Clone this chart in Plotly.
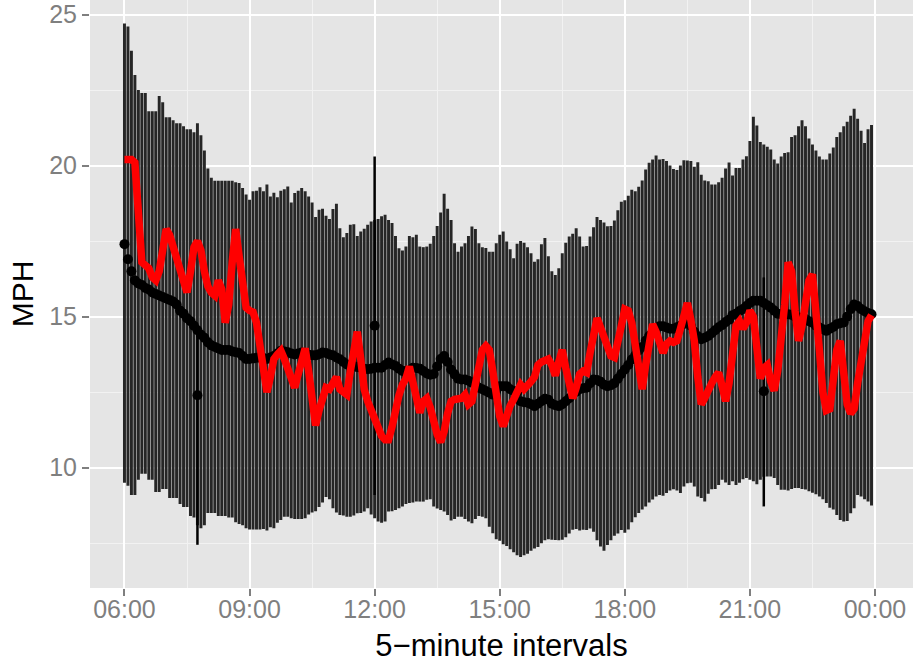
import pandas as pd
import plotly.graph_objects as go

# 5-minute intervals from 06:00 to 23:55
times = pd.date_range("2013-01-01 06:00", periods=216, freq="5min")

upper = [
    24.7, 24.6, 23.8, 23.0, 22.5, 22.4, 22.4, 21.8, 21.8, 21.8,
    22.3, 22.1, 21.6, 21.6, 21.5, 21.4, 21.4, 21.3, 21.2, 21.2,
    21.1, 21.4, 21.0, 20.5, 19.9, 19.6, 19.5, 19.5, 19.5, 19.5,
    19.5, 19.5, 19.45, 19.42, 19.26, 19.04, 18.87, 19.15, 19.17, 19.28,
    19.15, 19.37, 18.98, 19.1, 18.95, 19.17, 19.22, 19.31, 18.78, 19.09,
    19.17, 19.26, 19.15, 18.98, 18.78, 18.3, 18.54, 18.57, 18.34, 18.23,
    18.56, 18.74, 17.93, 17.63, 17.77, 18.04, 18.06, 17.67, 17.82, 17.91,
    18.04, 18.15, 18.2, 18.23, 18.32, 18.37, 18.2, 18.1, 17.67, 17.26,
    17.19, 17.32, 17.67, 17.63, 17.71, 17.32, 17.3, 17.32, 17.41, 17.67,
    18.0, 18.45, 19.07, 18.57, 18.2, 17.43, 17.15, 17.32, 17.43, 17.67,
    17.98, 17.9, 17.43, 17.3, 17.27, 17.15, 17.15, 17.43, 17.71, 17.82,
    17.49, 17.23, 16.93, 17.41, 17.5, 17.45, 17.3, 17.1, 16.82, 16.9,
    17.4, 17.6, 17.0, 16.5, 16.38, 16.6, 17.1, 17.45, 17.65, 17.74,
    17.93, 17.65, 17.32, 17.34, 17.65, 17.96, 18.3, 18.2, 18.12, 17.99,
    18.0, 18.18, 18.52, 18.8, 18.85, 19.0, 19.2, 19.15, 19.3, 19.51,
    19.87, 20.09, 20.2, 20.33, 20.2, 20.22, 20.15, 20.0, 19.89, 19.85,
    20.0, 20.18, 20.17, 20.15, 19.96, 20.11, 19.7, 19.51, 19.48, 19.37,
    19.37, 19.45, 19.6, 19.9, 20.1, 19.67, 19.92, 19.92, 20.2, 20.31,
    20.81, 21.62, 21.33, 20.78, 20.7, 20.62, 20.53, 20.2, 20.07, 20.3,
    20.42, 20.44, 20.95, 21.0, 21.3, 21.5, 21.3, 20.9, 20.7, 20.5,
    20.3, 20.2, 20.2, 20.4, 20.6, 20.95, 21.1, 21.3, 21.45, 21.65,
    21.88, 21.55, 21.15, 20.75, 21.2, 21.34,
]

lower = [
    9.5, 9.4, 9.1, 9.1, 9.6, 9.8, 9.8, 9.6, 9.6, 9.2,
    9.2, 9.3, 9.3, 9.0, 9.0, 9.0, 8.8, 8.7, 8.7, 8.4,
    8.35, 8.1, 8.0, 8.1, 8.5, 8.5, 8.5, 8.4, 8.4, 8.4,
    8.35, 8.35, 8.2, 8.14, 8.1, 8.0, 7.96, 7.96, 7.96, 7.96,
    7.97, 7.92, 8.03, 8.0, 8.18, 8.27, 8.38, 8.38, 8.33, 8.3,
    8.3, 8.3, 8.33, 8.45, 8.52, 8.56, 8.7, 8.85, 9.03, 8.96,
    8.66, 8.52, 8.44, 8.42, 8.38, 8.38, 8.42, 8.49, 8.5, 8.55,
    8.66, 8.45, 8.33, 8.22, 8.18, 8.22, 8.55, 8.56, 8.6, 8.66,
    8.72, 8.8, 8.83, 8.85, 8.88, 8.88, 8.88, 8.94, 8.96, 8.72,
    8.65, 8.6, 8.55, 8.44, 8.25, 8.3, 8.38, 8.38, 8.3, 8.22,
    8.16, 8.3, 8.4, 8.38, 8.33, 8.05, 7.83, 7.63, 7.58, 7.47,
    7.41, 7.3, 7.2, 7.1, 7.05, 7.1, 7.15, 7.25, 7.33, 7.38,
    7.5, 7.6, 7.63, 7.62, 7.61, 7.6, 7.62, 7.7, 7.82, 7.95,
    7.97, 7.92, 7.95, 7.94, 7.99, 7.88, 7.6, 7.39, 7.25, 7.44,
    7.6, 7.75, 7.82, 7.94, 7.85, 7.96, 8.2, 8.36, 8.5, 8.62,
    8.72, 8.85, 8.95, 9.05, 9.1, 9.07, 9.16, 9.25, 9.29, 9.25,
    9.16, 9.38, 9.49, 9.5, 9.38, 9.05, 9.0, 8.88, 9.14, 9.29,
    9.3, 9.43, 9.6, 9.51, 9.43, 9.55, 9.43, 9.5, 9.62, 9.66,
    9.6, 9.55, 9.45, 9.6, 9.7, 9.71, 9.71, 9.66, 9.43, 9.27,
    9.27, 9.25, 9.3, 9.33, 9.33, 9.3, 9.28, 9.22, 9.17, 9.12,
    9.05, 8.96, 8.83, 8.68, 8.62, 8.44, 8.27, 8.22, 8.24, 8.49,
    8.66, 9.1, 9.05, 8.96, 8.88, 8.75,
]

mean_mph = [
    17.4, 16.9, 16.5, 16.2, 16.1, 16.05, 15.95, 15.9, 15.8, 15.75,
    15.7, 15.65, 15.6, 15.55, 15.5, 15.4, 15.2, 15.1, 14.95, 14.85,
    14.7, 14.55, 14.4, 14.3, 14.15, 14.05, 14.0, 13.95, 13.9, 13.9,
    13.9, 13.85, 13.82, 13.8, 13.7, 13.6, 13.6, 13.62, 13.64, 13.64,
    13.63, 13.6, 13.65, 13.7, 13.78, 13.87, 13.85, 13.82, 13.78, 13.75,
    13.78, 13.81, 13.76, 13.74, 13.72, 13.72, 13.76, 13.81, 13.8, 13.75,
    13.72, 13.65, 13.59, 13.5, 13.42, 13.38, 13.37, 13.33, 13.31, 13.28,
    13.26, 13.28, 13.31, 13.31, 13.31, 13.4, 13.48, 13.42, 13.37, 13.28,
    13.2, 13.2, 13.22, 13.31, 13.3, 13.28, 13.2, 13.12, 13.08, 13.1,
    13.35, 13.6, 13.7, 13.5, 13.25, 13.09, 12.95, 12.92, 12.92, 12.88,
    12.81, 12.75, 12.65, 12.6, 12.54, 12.48, 12.42, 12.55, 12.7, 12.7,
    12.7, 12.6, 12.54, 12.5, 12.2, 12.17, 12.15, 12.1, 12.04, 12.12,
    12.2, 12.28, 12.25, 12.12, 12.07, 12.04, 12.1, 12.2, 12.3, 12.42,
    12.52, 12.6, 12.63, 12.65, 12.8, 12.92, 12.9, 12.85, 12.75, 12.7,
    12.73, 12.8, 12.95, 13.1, 13.25, 13.4, 13.58, 13.72, 13.88, 14.0,
    14.2, 14.36, 14.5, 14.6, 14.68, 14.68, 14.64, 14.6, 14.6, 14.65,
    14.7, 14.76, 14.8, 14.7, 14.5, 14.35, 14.25, 14.3, 14.36, 14.45,
    14.55, 14.65, 14.72, 14.82, 14.9, 15.05, 15.1, 15.19, 15.25, 15.35,
    15.45, 15.53, 15.53, 15.53, 15.45, 15.38, 15.3, 15.2, 15.1, 15.08,
    15.08, 15.08, 15.06, 15.0, 14.97, 14.95, 14.92, 14.85, 14.8, 14.7,
    14.64, 14.58, 14.53, 14.6, 14.66, 14.75, 14.78, 14.81, 15.0, 15.25,
    15.4, 15.35, 15.25, 15.18, 15.12, 15.08,
]

red_mph = [
    20.2, 20.2, 20.2, 20.1, 18.5, 16.8, 16.7, 16.6, 16.3, 16.2,
    16.5, 17.3, 17.9, 17.7, 17.3, 17.0, 16.6, 16.3, 15.8, 16.5,
    17.3, 17.5, 17.2, 16.5, 16.0, 15.8, 15.7, 16.2, 15.9, 14.8,
    15.4, 16.8, 17.9, 17.0, 15.9, 15.3, 15.2, 15.15, 14.8, 13.9,
    13.3, 12.5, 13.0, 13.6, 13.75, 13.87, 13.6, 13.3, 12.9, 12.65,
    13.1, 13.6, 13.95, 13.2, 12.2, 11.4, 11.9, 12.4, 12.65, 12.6,
    12.85, 13.0, 12.6, 12.5, 12.42, 13.2, 13.9, 14.5, 13.6, 12.6,
    12.2, 11.9, 11.6, 11.26, 11.05, 10.93, 10.93, 11.35, 12.0, 12.4,
    12.75, 12.95, 13.35, 12.8, 12.2, 11.82, 12.2, 12.3, 12.0, 11.5,
    11.1, 10.85, 11.2, 11.8, 12.2, 12.26, 12.26, 12.3, 12.42, 12.1,
    12.2, 12.7, 13.2, 13.9, 14.03, 13.9, 13.2, 12.4, 11.7, 11.37,
    11.8, 12.05, 12.26, 12.48, 12.75, 12.6, 12.7, 12.85, 13.0, 13.4,
    13.5, 13.55, 13.6, 13.4, 13.05, 13.5, 13.9, 13.3, 12.7, 12.3,
    12.65, 13.1, 13.2, 13.15, 13.8, 14.5, 14.95, 14.65, 14.3, 13.9,
    13.7, 13.65, 14.1, 14.7, 15.25, 15.2, 14.8, 14.0, 13.1, 12.6,
    13.4, 14.3, 14.75, 14.5, 14.1, 13.8, 14.1, 14.2, 14.15, 14.2,
    14.6, 15.1, 15.45, 14.9, 14.2, 13.0, 12.1, 12.3, 12.6, 12.8,
    13.0, 13.15, 12.7, 12.2, 12.8, 13.8, 14.7, 14.85, 14.6, 14.8,
    15.2, 15.0, 13.7, 12.95, 13.3, 13.4, 12.85, 12.55, 13.2, 14.2,
    15.4, 16.8, 16.5, 15.2, 14.2, 14.7, 15.4, 16.2, 16.4, 15.3,
    13.9, 12.5, 11.9, 11.95, 12.9, 13.9, 14.2, 13.0, 12.1, 11.8,
    11.95, 12.8, 13.6, 14.2, 14.85, 15.05,
]

# isolated intervals drawn with their own thin error bars
odd_times = ["2013-01-01 07:45", "2013-01-01 12:00", "2013-01-01 21:20"]
odd_mean = [12.4, 14.7, 12.53]
odd_low = [7.45, 9.1, 8.72]
odd_high = [14.7, 20.3, 16.3]

fig = go.Figure()

fig.add_trace(go.Bar(
    x=times, y=[u - l for u, l in zip(upper, lower)], base=lower,
    marker=dict(color="#262626", line=dict(width=0)),
    hoverinfo="skip",
))

fig.add_trace(go.Scatter(
    x=times, y=mean_mph, mode="markers",
    marker=dict(color="black", size=10),
))

fig.add_trace(go.Scatter(
    x=pd.to_datetime(odd_times), y=odd_mean, mode="markers",
    marker=dict(color="black", size=10),
    error_y=dict(type="data", symmetric=False,
                 array=[h - m for h, m in zip(odd_high, odd_mean)],
                 arrayminus=[m - l for m, l in zip(odd_mean, odd_low)],
                 width=0, thickness=2.5, color="black"),
))

fig.add_trace(go.Scatter(
    x=times, y=red_mph, mode="lines",
    line=dict(color="#FF0000", width=7.5),
))

fig.update_layout(
    width=914, height=663, autosize=False,
    margin=dict(l=90, r=1, t=0, b=75, pad=0),
    plot_bgcolor="#E5E5E5", paper_bgcolor="white",
    showlegend=False, bargap=0.15,
    font=dict(family="Liberation Sans, Arial, sans-serif"),
)

fig.update_xaxes(
    type="date", automargin=False,
    range=["2013-01-01 05:10:24", "2013-01-02 00:54:42"],
    tick0="2013-01-01 06:00", dtick=3 * 3600 * 1000, tickformat="%H:%M",
    showgrid=True, gridcolor="white", gridwidth=2,
    minor=dict(dtick=1.5 * 3600 * 1000, tick0="2013-01-01 06:00",
               showgrid=True, gridcolor="#F2F2F2", gridwidth=1),
    ticks="outside", ticklen=7, tickwidth=2, tickcolor="#7F7F7F",
    tickfont=dict(size=25, color="#7F7F7F"), ticklabelstandoff=-8,
    zeroline=False, showline=False,
    title=dict(text="5\u2212minute intervals", font=dict(size=31, color="black"), standoff=12),
)

fig.update_yaxes(
    automargin=False,
    range=[6.02, 25.48],
    tick0=0, dtick=5,
    showgrid=True, gridcolor="white", gridwidth=2,
    minor=dict(dtick=2.5, tick0=0, showgrid=True, gridcolor="#F2F2F2", gridwidth=1),
    ticks="outside", ticklen=7, tickwidth=2, tickcolor="#7F7F7F",
    tickfont=dict(size=25, color="#7F7F7F"),
    zeroline=False, showline=False,
    title=dict(text="MPH", font=dict(size=30, color="black"), standoff=6),
)

fig.write_html(
    "out.html",
    config={"displayModeBar": False},
    post_script="document.body.style.margin='0px';document.body.style.padding='0px';",
)
